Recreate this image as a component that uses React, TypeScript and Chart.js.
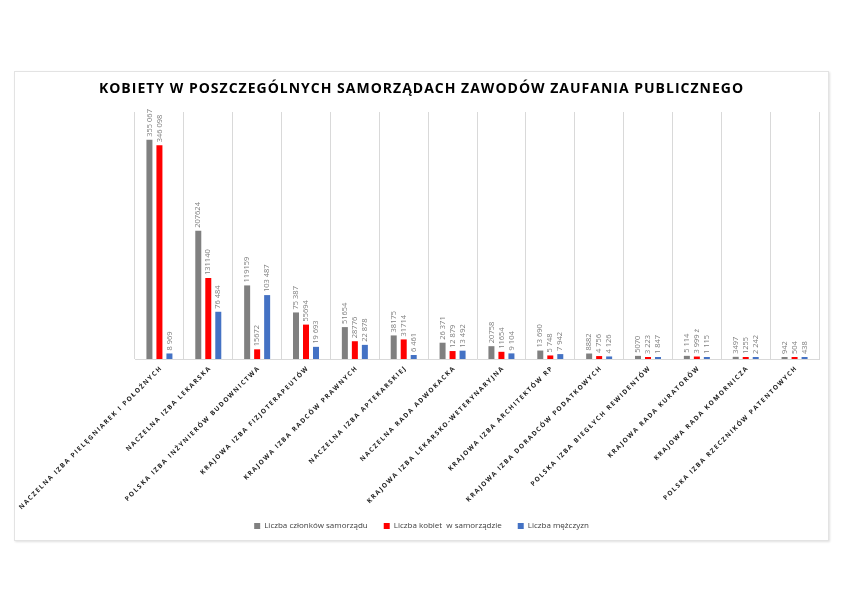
import { useEffect, useRef } from 'react'
import { Chart, registerables } from 'chart.js'

Chart.register(...registerables)

const title = 'KOBIETY W POSZCZEGÓLNYCH SAMORZĄDACH ZAWODÓW ZAUFANIA PUBLICZNEGO'

const categories = [
  'NACZELNA IZBA PIELĘGNIAREK I POŁOŻNYCH',
  'NACZELNA IZBA LEKARSKA',
  'POLSKA IZBA INŻYNIERÓW BUDOWNICTWA',
  'KRAJOWA IZBA FIZJOTERAPEUTÓW',
  'KRAJOWA IZBA RADCÓW PRAWNYCH',
  'NACZELNA IZBA APTEKARSKIEJ',
  'NACZELNA RADA ADWOKACKA',
  'KRAJOWA IZBA LEKARSKO-WETERYNARYJNA',
  'KRAJOWA IZBA ARCHITEKTÓW RP',
  'KRAJOWA IZBA DORADCÓW PODATKOWYCH',
  'POLSKA IZBA BIEGŁYCH REWIDENTÓW',
  'KRAJOWA RADA KURATORÓW',
  'KRAJOWA RADA KOMORNICZA',
  'POLSKA IZBA RZECZNIKÓW PATENTOWYCH',
]

const members = [355067, 207624, 119159, 75387, 51654, 38175, 26371, 20758, 13690, 8882, 5070, 5114, 3497, 942]
const women = [346098, 131140, 15672, 55694, 28776, 31714, 12879, 11654, 5748, 4756, 3223, 3999, 1255, 504]
const men = [8969, 76484, 103487, 19693, 22878, 6461, 13492, 9104, 7942, 4126, 1847, 1115, 2242, 438]

// data labels as printed in the original (mixed thousand separators)
const membersText = ['355 067', '207624', '119159', '75 387', '51654', '38175', '26 371', '20758', '13 690', '8882', '5070', '5 114', '3497', '942']
const womenText = ['346 098', '131140', '15672', '55694', '28776', '31714', '12 879', '11654', '5 748', '4 756', '3 223', '3 999 ź', '1255', '504']
const menText = ['8 969', '76 484', '103 487', '19 693', '22 878', '6 461', '13 492', '9 104', '7 942', '4 126', '1 847', '1 115', '2 242', '438']

const seriesNames = ['Liczba członków samorządu', 'Liczba kobiet  w samorządzie', 'Liczba mężczyzn']
const seriesColors = ['#808080', '#ff0000', '#4472c4']
const seriesText = [membersText, womenText, menText]

const labelsPlugin = {
  id: 'customLabels',
  afterDatasetsDraw(chart: any) {
    const ctx = chart.ctx
    ctx.save()
    ctx.font = '7.5px "Open Sans"'
    ctx.fillStyle = '#808080'
    ctx.textAlign = 'left'
    ctx.textBaseline = 'middle'
    chart.data.datasets.forEach((_: any, di: number) => {
      const meta = chart.getDatasetMeta(di)
      meta.data.forEach((bar: any, i: number) => {
        ctx.save()
        ctx.translate(bar.x, bar.y - 3)
        ctx.rotate(-Math.PI / 2)
        ctx.fillText(seriesText[di][i], 0, 0)
        ctx.restore()
      })
    })
    ctx.restore()
  },
  afterDraw(chart: any) {
    const ctx = chart.ctx
    const xs = chart.scales.x
    const bottom = chart.chartArea.bottom

    // title with letter spacing
    ctx.save()
    ctx.font = 'bold 14px "Open Sans"'
    ctx.fillStyle = '#000000'
    ;(ctx as any).letterSpacing = '1px'
    ctx.textAlign = 'center'
    ctx.textBaseline = 'middle'
    ctx.fillText(title, chart.width / 2, 17)
    ctx.restore()

    // rotated category labels
    ctx.save()
    ctx.font = 'bold 6.5px "Open Sans"'
    ctx.fillStyle = '#1a1a1a'
    ;(ctx as any).letterSpacing = '1.45px'
    ctx.textAlign = 'right'
    ctx.textBaseline = 'middle'
    categories.forEach((c, i) => {
      const x = xs.getPixelForValue(i)
      ctx.save()
      ctx.translate(x + 2, bottom + 8)
      ctx.rotate(-Math.PI / 4)
      ctx.fillText(c, 0, 0)
      ctx.restore()
    })
    ctx.restore()
  },
}

export default function App() {
  const canvasRef = useRef<HTMLCanvasElement>(null)
  const chartRef = useRef<Chart | null>(null)

  useEffect(() => {
    const canvas = canvasRef.current
    if (!canvas) return
    const ctx = canvas.getContext('2d')
    if (!ctx) return
    if (chartRef.current) chartRef.current.destroy()

    chartRef.current = new Chart(ctx, {
      type: 'bar',
      data: {
        labels: categories,
        datasets: [members, women, men].map((d, i) => ({
          label: seriesNames[i],
          data: d,
          backgroundColor: seriesColors[i],
          borderWidth: 0,
          barPercentage: 0.6,
          categoryPercentage: 0.614,
          minBarLength: 2,
        })),
      },
      options: {
        responsive: true,
        maintainAspectRatio: false,
        animation: false,
        layout: { padding: { top: 40, bottom: 0, left: 0, right: 0 } },
        scales: {
          x: {
            grid: { display: true, color: '#d9d9d9', offset: true, drawTicks: false },
            border: { display: true, color: '#d9d9d9' },
            ticks: { display: false },
            afterFit: (s: any) => {
              s.height = 147
            },
          },
          y: {
            min: 0,
            max: 400000,
            grid: { display: false },
            border: { display: false },
            ticks: { display: false },
            afterFit: (s: any) => {
              s.width = 120
            },
          },
          y2: {
            position: 'right',
            grid: { display: false },
            border: { display: false },
            ticks: { display: false },
            afterFit: (s: any) => {
              s.width = 9
            },
          },
        },
        plugins: {
          title: { display: false },
          legend: {
            position: 'bottom',
            labels: {
              boxWidth: 6,
              boxHeight: 6,
              padding: 16,
              color: '#404040',
              font: { family: '"Open Sans"', size: 8 },
            },
          },
          tooltip: { enabled: false },
        },
      } as any,
      plugins: [labelsPlugin],
    })

    return () => {
      if (chartRef.current) {
        chartRef.current.destroy()
        chartRef.current = null
      }
    }
  }, [])

  return (
    <div
      style={{
        position: 'absolute',
        left: 14,
        top: 71,
        width: 813,
        height: 468,
        border: '1px solid #e3e3e3',
        boxShadow: '1px 1px 2px rgba(0,0,0,0.12)',
        background: '#fff',
      }}
    >
      <canvas ref={canvasRef} />
    </div>
  )
}
